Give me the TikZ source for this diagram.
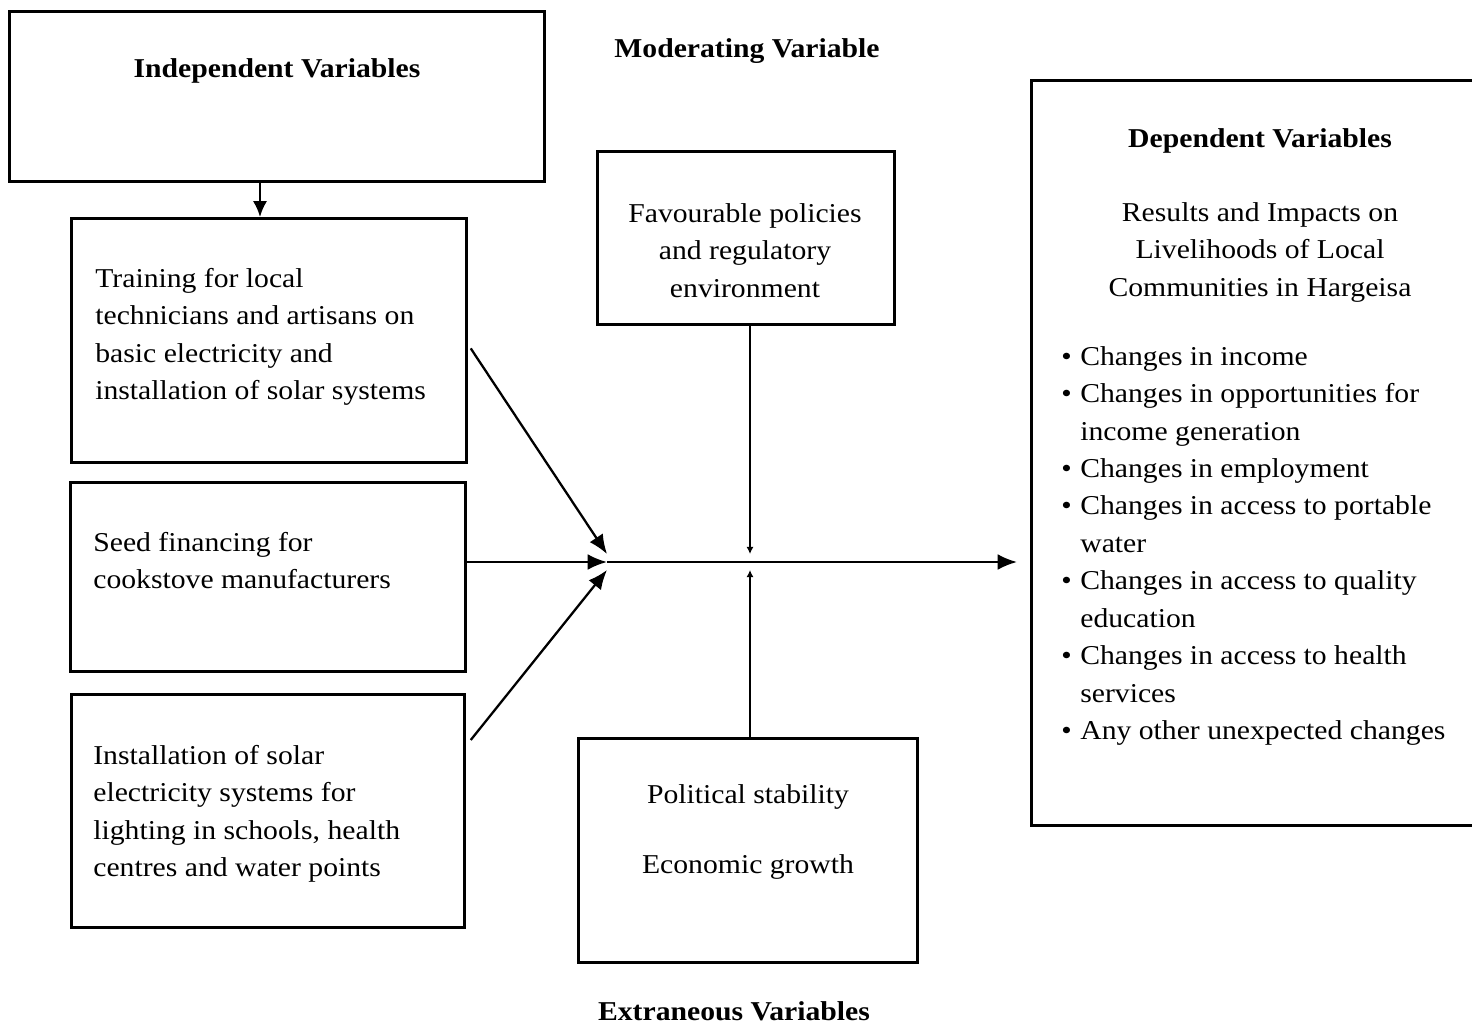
\documentclass[tikz,border=0pt]{standalone}
\usepackage{fontspec}
\setmainfont{Liberation Serif}[FakeStretch=1.09]
\usetikzlibrary{arrows.meta, positioning, calc}

\tikzset{
  varbox/.style={draw, line width=1.6pt, anchor=north west, inner sep=0pt},
  bodytext/.style={inner sep=0pt, font=\fontsize{15.5}{21.3}\selectfont},
  heading/.style={inner sep=0pt, font=\bfseries\fontsize{15.5}{21.3}\selectfont},
  link/.style={line width=1.3pt, -{Latex[length=11pt,width=9pt]}},
  modlink/.style={line width=1.3pt, -{Latex[length=4pt,width=4pt]}},
}
\newcommand{\bul}{\makebox[0.38cm][l]{\textbullet}}

\begin{document}
\begin{tikzpicture}[x=0.02cm, y=-0.02cm]

% page frame
\clip (0,0) rectangle (1472,1025);

% --- Independent variables ---
\node[varbox, minimum width=10.7cm, minimum height=3.4cm] (indep) at (8,10) {};
\node[heading] (indeptitle) at (277,71) {Independent Variables};

\node[varbox, minimum width=7.9cm, minimum height=4.88cm] (train) at (70,217) {};
\node[bodytext, anchor=north west, align=left] (traintxt) at (95,268)
  {Training for local\\technicians and artisans on\\basic electricity and\\installation of solar systems};

\node[varbox, minimum width=7.9cm, minimum height=3.78cm] (seed) at (69,481) {};
\node[bodytext, anchor=north west, align=left] (seedtxt) at (93,532)
  {Seed financing for\\cookstove manufacturers};

\node[varbox, minimum width=7.86cm, minimum height=4.66cm] (solar) at (70,693) {};
\node[bodytext, anchor=north west, align=left] (solartxt) at (93,745)
  {Installation of solar\\electricity systems for\\lighting in schools, health\\centres and water points};

% --- Moderating variable ---
\node[heading] (modtitle) at (747,51) {Moderating Variable};
\node[varbox, minimum width=5.94cm, minimum height=3.46cm] (mod) at (596,150) {};
\node[bodytext, anchor=north, align=center] (modtxt) at (745,203)
  {Favourable policies\\and regulatory\\environment};

% --- Extraneous variables ---
\node[varbox, minimum width=6.78cm, minimum height=4.48cm] (extr) at (577,737) {};
\node[bodytext] (polit) at (748,797) {Political stability};
\node[bodytext] (econ) at (748,867) {Economic growth};
\node[heading] (extrtitle) at (734,1011) {Extraneous Variables};

% --- Dependent variables ---
\node[varbox, minimum width=9.4cm, minimum height=14.9cm] (dep) at (1030,79) {};
\node[heading] (deptitle) at (1260,141) {Dependent Variables};
\node[bodytext, anchor=north, align=center] (deptxt) at (1260,202)
  {Results and Impacts on\\Livelihoods of Local\\Communities in Hargeisa};
\node[bodytext, anchor=north west, align=left] (deplist) at (1061,346)
  {\bul Changes in income\\
   \bul Changes in opportunities for\\
   \phantom{\bul}income generation\\
   \bul Changes in employment\\
   \bul Changes in access to portable\\
   \phantom{\bul}water\\
   \bul Changes in access to quality\\
   \phantom{\bul}education\\
   \bul Changes in access to health\\
   \phantom{\bul}services\\
   \bul Any other unexpected changes};

% --- Connectors ---
\coordinate (junc) at (607,562);
\coordinate (mid) at (750,562);

\draw[line width=1.3pt, -{Latex[length=9pt,width=8pt]}]
  ($(indep.south west)+(252,0)$) -- ($(train.north west)+(190,0)$);

\draw[link] ($(train.east)+(3,8)$) -- ($(junc)+(0,-8)$);
\draw[link] (seed.east |- junc) -- (junc);
\draw[link] ($(solar.north east)+(5,47)$) -- ($(junc)+(0,8)$);

\draw[link, shorten >=13*0.02cm] (junc) -- (dep.west |- junc);

\draw[modlink] (mod.south -| mid) -- ($(mid)+(0,-8)$);
\draw[modlink] (extr.north -| mid) -- ($(mid)+(0,8)$);

\end{tikzpicture}
\end{document}
